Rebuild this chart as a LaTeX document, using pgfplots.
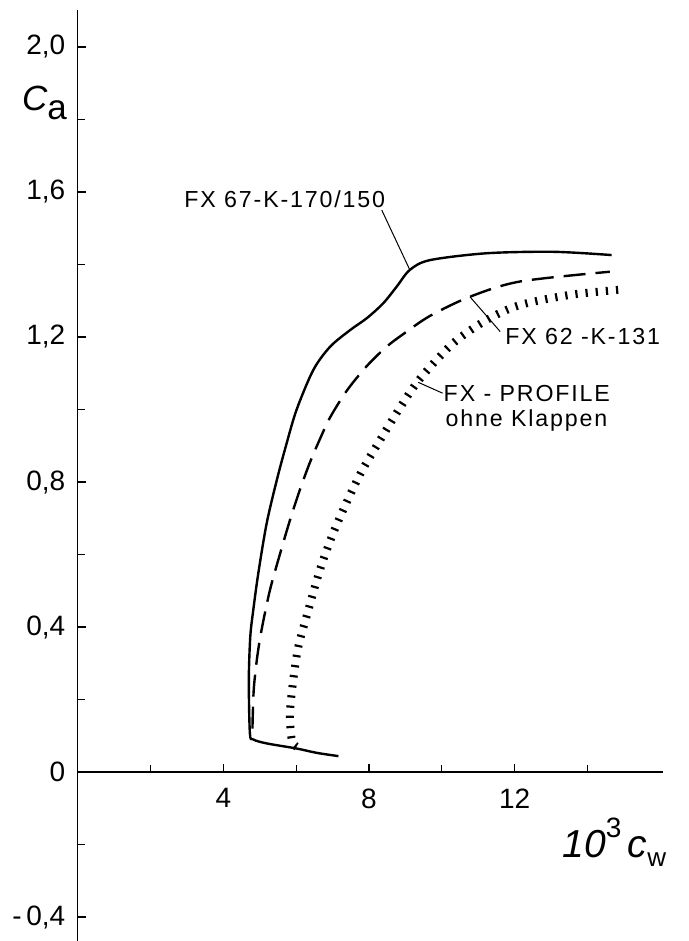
\documentclass[border=0pt]{standalone}
\usepackage{fontspec}
\setmainfont{Liberation Sans}
\newfontfamily\labfont[LetterSpace=8]{Liberation Sans}
\usepackage{pgfplots}
\pgfplotsset{compat=1.18}

\begin{document}
\begin{tikzpicture}
\begin{axis}[
  scale only axis, width=292.7pt, height=465.5pt,
  xmin=0, xmax=16.07, ymin=-0.466, ymax=2.102,
  axis lines=middle, axis line style={-, line width=0.9pt},
  clip=false,
  xtick={4,8,12}, xticklabels={4,8,12},
  minor xtick={2,6,10,14},
  ytick={-0.4,0,0.4,0.8,1.2,1.6,2.0},
  yticklabels={{-\,0,4},0,{0,4},{0,8},{1,2},{1,6},{2,0}},
  minor ytick={-0.2,0.2,0.6,1.0,1.4,1.8},
  tick align=inside,
  major tick length=4pt, minor tick length=3.5pt,
  tick style={black, line width=0.6pt},
  ticklabel style={font=\fontsize{14}{16}\selectfont, inner sep=0pt},
  xticklabel style={yshift=-8pt},
  yticklabel style={xshift=-6pt},
]
% FX 67-K-170/150 (solid)
\addplot[black, line width=1.2pt, smooth, tension=0.5] coordinates {
  (7.16,0.044) (6.56,0.053) (6.01,0.065) (5.19,0.079) (4.82,0.090)
  (4.73,0.107) (4.70,0.254) (4.74,0.373) (4.82,0.445) (4.96,0.548) (5.19,0.686)
  (5.47,0.806) (5.72,0.900) (6.01,0.999) (6.47,1.109) (6.93,1.173)
  (7.48,1.219) (7.94,1.252) (8.39,1.293) (8.76,1.339) (9.12,1.385)
  (9.67,1.412) (11.23,1.431) (13.06,1.435) (14.66,1.426)
};
% FX 62-K-131 (dashed)
\addplot[black, line width=1.2pt, smooth, dash pattern=on 11pt off 5pt] coordinates {
  (4.80,0.120) (4.81,0.162) (4.84,0.234) (4.93,0.317) (5.05,0.392)
  (5.28,0.502) (5.56,0.603) (5.83,0.695) (6.10,0.778) (6.37,0.852)
  (6.65,0.918) (6.93,0.978) (7.39,1.052) (7.94,1.120) (8.48,1.173)
  (8.94,1.208) (9.67,1.258) (10.77,1.311) (12.14,1.353) (14.61,1.380)
};
% FX-Profile ohne Klappen (hatched: thick line, tiny dashes)
\addplot[black, line width=4pt, line cap=butt, smooth, dash pattern=on 1.1pt off 4pt] coordinates {
  (6.01,0.070) (5.88,0.088) (5.83,0.162) (5.92,0.254) (6.06,0.346)
  (6.31,0.438) (6.65,0.557) (7.00,0.655) (7.39,0.745) (7.80,0.830)
  (8.30,0.915) (8.85,1.005) (9.40,1.085) (10.31,1.183) (11.23,1.247)
  (12.14,1.288) (13.51,1.316) (14.84,1.330)
};
% leaders
\draw[line width=0.5pt] (axis cs:8.35,1.550) -- (axis cs:9.12,1.385);
\draw[line width=0.5pt] (axis cs:11.60,1.215) -- (axis cs:10.77,1.311);
\draw[line width=0.5pt] (axis cs:10.02,1.045) -- (axis cs:9.35,1.075);
% labels
\node[anchor=west, inner sep=0pt, font=\labfont\fontsize{11.6}{13}\selectfont] at (axis cs:2.92,1.581) {FX 67-K-170/150};
\node[anchor=west, inner sep=0pt, font=\labfont\fontsize{11.6}{13}\selectfont] at (axis cs:11.73,1.201) {FX 62 -K-131};
\node[anchor=west, inner sep=0pt, font=\labfont\fontsize{11.6}{13}\selectfont] at (axis cs:10.04,1.045) {FX - PROFILE};
\node[anchor=west, inner sep=0pt, font=\labfont\fontsize{11.6}{13}\selectfont] at (axis cs:10.09,0.971) {ohne Klappen};
\node[anchor=east, inner sep=0pt, xshift=-6pt, font=\fontsize{14}{16}\selectfont] at (axis cs:0,0) {0};
\node[anchor=base west, inner sep=0pt, font=\fontsize{17.5}{20}\selectfont] at (axis cs:-1.534,1.826)
  {\itshape C\raisebox{-4.5pt}{\upshape a}};
\node[anchor=base west, inner sep=0pt, font=\fontsize{19.5}{22}\selectfont] at (axis cs:13.30,-0.237)
  {\itshape 10\raisebox{10pt}{\upshape\fontsize{14}{14}\selectfont 3}\,c\raisebox{-4.5pt}{\upshape\fontsize{13}{13}\selectfont w}};
\coordinate (sw) at (rel axis cs:0,0);
\end{axis}
\pgfresetboundingbox
\path ([xshift=-38.8pt]sw) rectangle ([xshift=305.7pt,yshift=470.5pt]sw);
\end{tikzpicture}
\end{document}
